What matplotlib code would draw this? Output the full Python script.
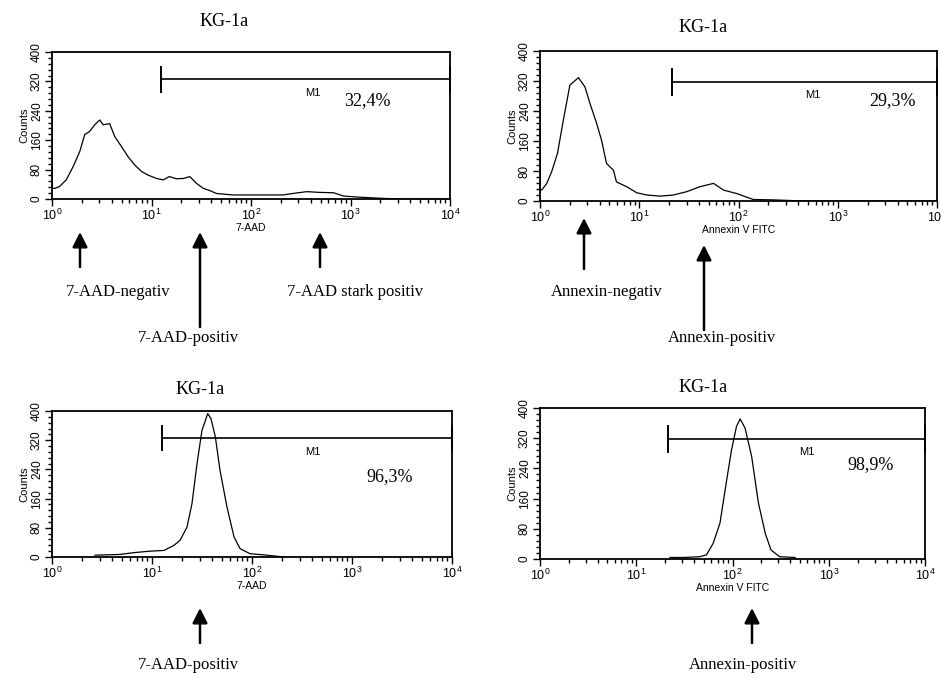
import numpy as np
import matplotlib
matplotlib.use("Agg")
import matplotlib.pyplot as plt
from matplotlib.ticker import LogLocator, MultipleLocator, NullFormatter

plt.rcParams.update({
    "font.family": "Liberation Sans",
    "mathtext.fontset": "custom",
    "mathtext.rm": "Liberation Sans",
    "mathtext.it": "Liberation Sans:italic",
    "mathtext.bf": "Liberation Sans:bold",
})

W, H = 941, 677

# --- histogram data (fluorescence, counts) ---
aad_neg_x = [1.0, 1.01, 1.07, 1.19, 1.39, 1.63, 1.90, 2.13, 2.39, 2.69, 3.02, 3.26, 3.80,
             4.27, 4.98, 5.82, 6.76, 7.94, 9.25, 11.2, 13.1, 15.1, 17.8, 20.9, 24.3,
             28.2, 33.1, 38.5, 45.0, 66, 98, 143, 209, 263, 363, 490, 676, 851,
             1230, 2000, 3160, 9550]
aad_neg_y = [216, 29, 29, 34, 52, 88, 129, 175, 184, 202, 215, 202, 205,
             170, 143, 115, 93, 75, 65, 56, 52, 61, 55, 56, 61,
             43, 29, 23, 15, 11, 11, 11, 11, 15, 20, 18, 17, 8,
             5, 2, 0, 0]

anx_neg_x = [1.0, 1.005, 1.01, 1.04, 1.17, 1.31, 1.50, 1.72, 2.0, 2.44, 2.84, 3.19, 3.72,
             4.17, 4.68, 5.50, 5.89, 7.48, 9.44, 11.9, 16.2, 22.1, 30.2, 40.7,
             56.0, 70.8, 95.5, 141, 224, 457, 9550]
anx_neg_y = [362, 198, 29, 29, 47, 78, 127, 216, 309, 329, 304, 260, 207,
             162, 100, 82, 51, 38, 22, 16, 13, 16, 25, 38,
             47, 29, 20, 4, 3, 0, 0]

aad_pos_x = [2.69, 4.79, 6.61, 9.55, 13.2, 16.6, 19.1, 22.4, 25.1, 28.2, 31.6, 36.1,
             38.9, 43.0, 47.9, 56.2, 66.1, 75.9, 95.5, 141, 178, 209]
aad_pos_y = [5, 7, 12, 16, 18, 32, 46, 82, 146, 256, 347, 393,
             379, 329, 237, 137, 55, 23, 9, 5, 2, 0]

anx_pos_x = [22.4, 30.9, 45.7, 53.7, 63.1, 74.1, 87.1, 97.7, 110, 120, 135, 158,
             186, 219, 251, 309, 447, 457]
anx_pos_y = [4, 4, 6, 11, 42, 95, 210, 289, 351, 371, 347, 272,
             148, 68, 24, 6, 4, 0]

titles = ["KG-1a", "KG-1a", "KG-1a", "KG-1a"]
xlabels = ["7-AAD", "Annexin V FITC", "7-AAD", "Annexin V FITC"]
gate_start = [12.5, 21.4, 12.6, 21.4]
gate_level = [326, 317, 326, 318]
percents = ["32,4%", "29,3%", "96,3%", "98,9%"]

series = [(aad_neg_x, aad_neg_y), (anx_neg_x, anx_neg_y),
          (aad_pos_x, aad_pos_y), (anx_pos_x, anx_pos_y)]

# layout (pixels: left, top, right, bottom)
boxes = [(52, 52, 450, 199), (540, 51, 937, 201), (52, 411, 452, 557), (540, 408, 925, 559)]
title_pos = [(224, 22), (703, 27), (200, 389), (703, 388)]
m1_pos = [(420, 288), (560, 283), (410, 288), (590, 283)]
pct_pos = [(1470, 269), (3600, 269), (2400, 219), (2700, 249)]


def rect(l, t, r, b):
    return [l / W, 1 - b / H, (r - l) / W, (b - t) / H]


fig = plt.figure(figsize=(W / 100, H / 100), dpi=100)

for i, (xs, ys) in enumerate(series):
    ax = fig.add_axes(rect(*boxes[i]))
    ax.plot(xs, ys, color="black", lw=0.9)
    ax.set_xscale("log")
    ax.set_xlim(1, 1e4)
    ax.set_ylim(0, 400)
    ax.xaxis.set_major_locator(LogLocator(base=10, numticks=10))
    ax.xaxis.set_minor_locator(LogLocator(base=10, subs=np.arange(2, 10), numticks=20))
    ax.xaxis.set_minor_formatter(NullFormatter())
    ax.yaxis.set_major_locator(MultipleLocator(80))
    ax.yaxis.set_minor_locator(MultipleLocator(16))
    ax.tick_params(which="major", direction="out", length=5, width=1, labelsize=9, pad=1.5)
    ax.tick_params(which="minor", direction="out", length=3, width=1)
    ax.tick_params(axis="y", labelrotation=90, labelsize=8.5)
    for lab in ax.get_yticklabels():
        lab.set_va("center")
    for sp in ax.spines.values():
        sp.set_linewidth(1.3)
    ax.set_xlabel(xlabels[i], fontsize=7.5, labelpad=0)
    ax.set_ylabel("Counts", fontsize=8, labelpad=1)

    # M1 gate
    g0, gy = gate_start[i], gate_level[i]
    ax.plot([g0, 1e4], [gy, gy], color="black", lw=1.2, clip_on=False)
    for gx in (g0, 1e4):
        ax.plot([gx, gx], [gy - 34, gy + 34], color="black", lw=1.4, clip_on=False)
    ax.text(m1_pos[i][0], m1_pos[i][1], "M1", fontsize=8, ha="center", va="center")
    ax.text(pct_pos[i][0], pct_pos[i][1], percents[i], fontsize=13,
            family="Liberation Serif", ha="center", va="center")

# overlay in pixel coordinates for titles, arrows and labels
ov = fig.add_axes([0, 0, 1, 1])
ov.set_xlim(0, W)
ov.set_ylim(H, 0)
ov.axis("off")

for t, (tx, ty) in zip(titles, title_pos):
    ov.text(tx, ty, t, fontsize=13, family="Liberation Serif", ha="center", va="center")

arrows = [(80, 267, 232), (200, 327, 232), (320, 267, 232),
          (584, 269, 218), (704, 330, 245),
          (200, 643, 608), (752, 643, 608)]
for ax_x, y_tail, y_head in arrows:
    ov.annotate("", xy=(ax_x, y_head), xytext=(ax_x, y_tail),
                arrowprops=dict(arrowstyle="-|>,head_length=0.9,head_width=0.45",
                                color="black", lw=1.8, shrinkA=0, shrinkB=0))

labels = [("7-AAD-negativ", 118, 292), ("7-AAD-positiv", 188, 338),
          ("7-AAD stark positiv", 355, 292), ("Annexin-negativ", 607, 292),
          ("Annexin-positiv", 722, 338), ("7-AAD-positiv", 188, 665),
          ("Annexin-positiv", 743, 665)]
for s, lx, ly in labels:
    ov.text(lx, ly, s, fontsize=12, family="Liberation Serif", ha="center", va="center")

fig.savefig("out.png", dpi=100)
